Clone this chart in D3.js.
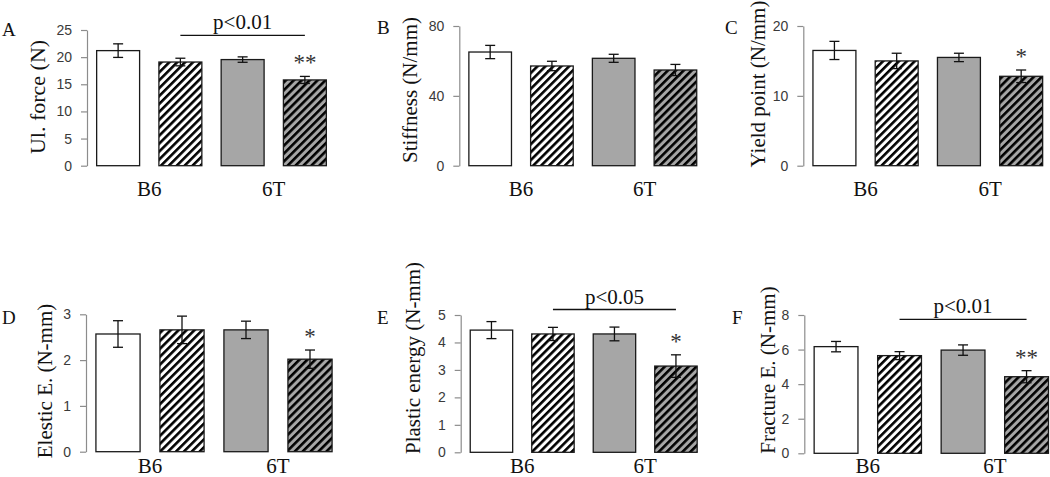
<!DOCTYPE html>
<html>
<head>
<meta charset="utf-8">
<script src="https://cdn.jsdelivr.net/npm/d3@7"></script>
<style>
  html, body { margin: 0; padding: 0; background: #fff; }
  svg { display: block; }
</style>
</head>
<body>
<svg id="chart" width="1050" height="477"></svg>
<script>
// ---------------- data ----------------
const categories = ["B6", "6T"];
const groups = ["B6 ctrl", "B6 treated", "6T ctrl", "6T treated"];
const panelLetters = ["A", "B", "C", "D", "E", "F"];
const yTitles = ["Ul. force (N)", "Stiffness (N/mm)", "Yield point (N/mm)",
                 "Elestic E. (N-mm)", "Plastic energy (N-mm)", "Fracture E. (N-mm)"];

const ultForce = [21.2, 19.1, 19.55, 15.8];
const ultForceErr = [1.25, 0.7, 0.5, 0.65];
const stiffness = [65.1, 57.1, 61.5, 54.8];
const stiffnessErr = [3.8, 2.7, 2.3, 3.2];
const yieldPoint = [16.5, 15.0, 15.5, 12.8];
const yieldPointErr = [1.3, 1.1, 0.6, 0.9];
const elasticE = [2.57, 2.66, 2.66, 2.02];
const elasticEErr = [0.29, 0.3, 0.19, 0.2];
const plasticEnergy = [4.45, 4.31, 4.31, 3.14];
const plasticEnergyErr = [0.31, 0.24, 0.25, 0.41];
const fractureE = [6.17, 5.65, 5.97, 4.43];
const fractureEErr = [0.3, 0.23, 0.3, 0.35];

const ticksA = [0, 5, 10, 15, 20, 25];
const ticksB = [0, 40, 80];
const ticksC = [0, 10, 20];
const ticksD = [0, 1, 2, 3];
const ticksE = [0, 1, 2, 3, 4, 5];
const ticksF = [0, 2, 4, 6, 8];

const starsA = ["", "", "", "**"];
const starsB = ["", "", "", ""];
const starsC = ["", "", "", "*"];
const starsD = ["", "", "", "*"];
const starsE = ["", "", "", "*"];
const starsF = ["", "", "", "**"];

const sigLabels = ["p<0.01", null, null, null, "p<0.05", "p<0.01"];
const sigLevels = [24, null, null, null, 5.2, 7.75];
const sigFrom = 1, sigTo = 3;

const valuesList = [ultForce, stiffness, yieldPoint, elasticE, plasticEnergy, fractureE];
const errList = [ultForceErr, stiffnessErr, yieldPointErr, elasticEErr, plasticEnergyErr, fractureEErr];
const ticksList = [ticksA, ticksB, ticksC, ticksD, ticksE, ticksF];
const starsList = [starsA, starsB, starsC, starsD, starsE, starsF];

// ---------------- layout (positions / sizes) ----------------
const layout = [
  { ax: 87,    y0: 165.7, yTop: 30,    w: 249, lab: [37, 97],   let: [2, 36],   catY: 196, labFs: 22 },
  { ax: 459.3, y0: 165.7, yTop: 26,    w: 247, lab: [410, 90],  let: [377, 34], catY: 196, labFs: 21 },
  { ax: 803.3, y0: 165.7, yTop: 26,    w: 249, lab: [758, 84],  let: [725, 34], catY: 196, labFs: 21 },
  { ax: 86,    y0: 451.7, yTop: 314.3, w: 256, lab: [45, 381],  let: [2, 324],  catY: 473, labFs: 21 },
  { ax: 460.7, y0: 452.3, yTop: 315,   w: 246, lab: [413, 358], let: [377, 324], catY: 473, labFs: 21 },
  { ax: 804.3, y0: 453.3, yTop: 315,   w: 254, lab: [768, 370], let: [732, 324], catY: 473, labFs: 21 }
];
const fills = ["#ffffff", "url(#hatchW)", "#a6a6a6", "url(#hatchG)"];
const serif = "'Liberation Serif', 'Times New Roman', serif";
const sans = "'Liberation Sans', Arial, sans-serif";

const svg = d3.select("#chart");
const defs = svg.append("defs");
[["hatchW", "#ffffff"], ["hatchG", "#a6a6a6"]].forEach(([id, bg]) => {
  const p = defs.append("pattern").attr("id", id)
    .attr("patternUnits", "userSpaceOnUse")
    .attr("width", 5.6).attr("height", 5.6)
    .attr("patternTransform", "rotate(45)");
  p.append("rect").attr("width", 5.6).attr("height", 5.6).attr("fill", bg);
  p.append("rect").attr("x", 0).attr("width", 2.6).attr("height", 5.6).attr("fill", "#000");
});

layout.forEach((L, i) => {
  const vals = valuesList[i], errs = errList[i], ticks = ticksList[i];
  const g = svg.append("g");
  const y = d3.scaleLinear().domain([0, d3.max(ticks)]).range([L.y0, L.yTop]);
  const x = d3.scaleBand().domain(d3.range(4)).range([L.ax, L.ax + L.w])
    .paddingInner(0.31).paddingOuter(0.155);

  // axis
  const axis = d3.axisLeft(y).tickValues(ticks).tickSize(6).tickSizeOuter(0).tickPadding(9)
    .tickFormat(d3.format("d"));
  const ag = g.append("g").attr("transform", `translate(${L.ax},0)`).call(axis);
  ag.select(".domain").attr("stroke", "#8c8c8c").attr("stroke-width", 1.2);
  ag.selectAll(".tick line").attr("stroke", "#8c8c8c").attr("stroke-width", 1.2);
  ag.selectAll(".tick text").attr("fill", "#3a3a3a")
    .style("font-family", sans).style("font-size", "14px");

  // bars
  g.selectAll("rect.bar").data(vals).join("rect").attr("class", "bar")
    .attr("x", (d, j) => x(j)).attr("width", x.bandwidth())
    .attr("y", d => y(d)).attr("height", d => y(0) - y(d))
    .attr("fill", (d, j) => fills[j])
    .attr("stroke", "#1a1a1a").attr("stroke-width", 1.3);

  // error bars
  const cx = j => x(j) + x.bandwidth() / 2;
  const eg = g.append("g").attr("stroke", "#111").attr("stroke-width", 1.3).attr("fill", "none");
  vals.forEach((v, j) => {
    const hi = y(v + errs[j]), lo = y(v - errs[j]);
    eg.append("line").attr("x1", cx(j)).attr("x2", cx(j)).attr("y1", hi).attr("y2", lo);
    eg.append("line").attr("x1", cx(j) - 5).attr("x2", cx(j) + 5).attr("y1", hi).attr("y2", hi);
    eg.append("line").attr("x1", cx(j) - 5).attr("x2", cx(j) + 5).attr("y1", lo).attr("y2", lo);
  });

  // stars
  starsList[i].forEach((s, j) => {
    if (!s) return;
    g.append("text").attr("x", cx(j)).attr("y", y(vals[j] + errs[j]) - 6)
      .attr("text-anchor", "middle").attr("fill", "#333")
      .style("font-family", serif).style("font-size", "23px").text(s);
  });

  // significance bracket
  if (sigLabels[i]) {
    const ly = y(sigLevels[i]);
    g.append("line").attr("x1", cx(sigFrom)).attr("x2", cx(sigTo))
      .attr("y1", ly).attr("y2", ly).attr("stroke", "#111").attr("stroke-width", 1.3);
    g.append("text").attr("x", (cx(sigFrom) + cx(sigTo)) / 2).attr("y", ly - 6)
      .attr("text-anchor", "middle").attr("fill", "#111")
      .style("font-family", serif).style("font-size", "21px").text(sigLabels[i]);
  }

  // category labels
  categories.forEach((c, k) => {
    g.append("text").attr("x", (cx(2 * k) + cx(2 * k + 1)) / 2).attr("y", L.catY)
      .attr("text-anchor", "middle").attr("fill", "#111")
      .style("font-family", serif).style("font-size", "21px").text(c);
  });

  // y title
  g.append("text")
    .attr("transform", `translate(${L.lab[0]},${L.lab[1]}) rotate(-90)`)
    .attr("text-anchor", "middle").attr("dominant-baseline", "central")
    .attr("fill", "#111").style("font-family", serif).style("font-size", L.labFs + "px")
    .text(yTitles[i]);

  // panel letter
  g.append("text").attr("x", L.let[0]).attr("y", L.let[1])
    .attr("fill", "#111").style("font-family", serif).style("font-size", "19px")
    .text(panelLetters[i]);
});
</script>
</body>
</html>
